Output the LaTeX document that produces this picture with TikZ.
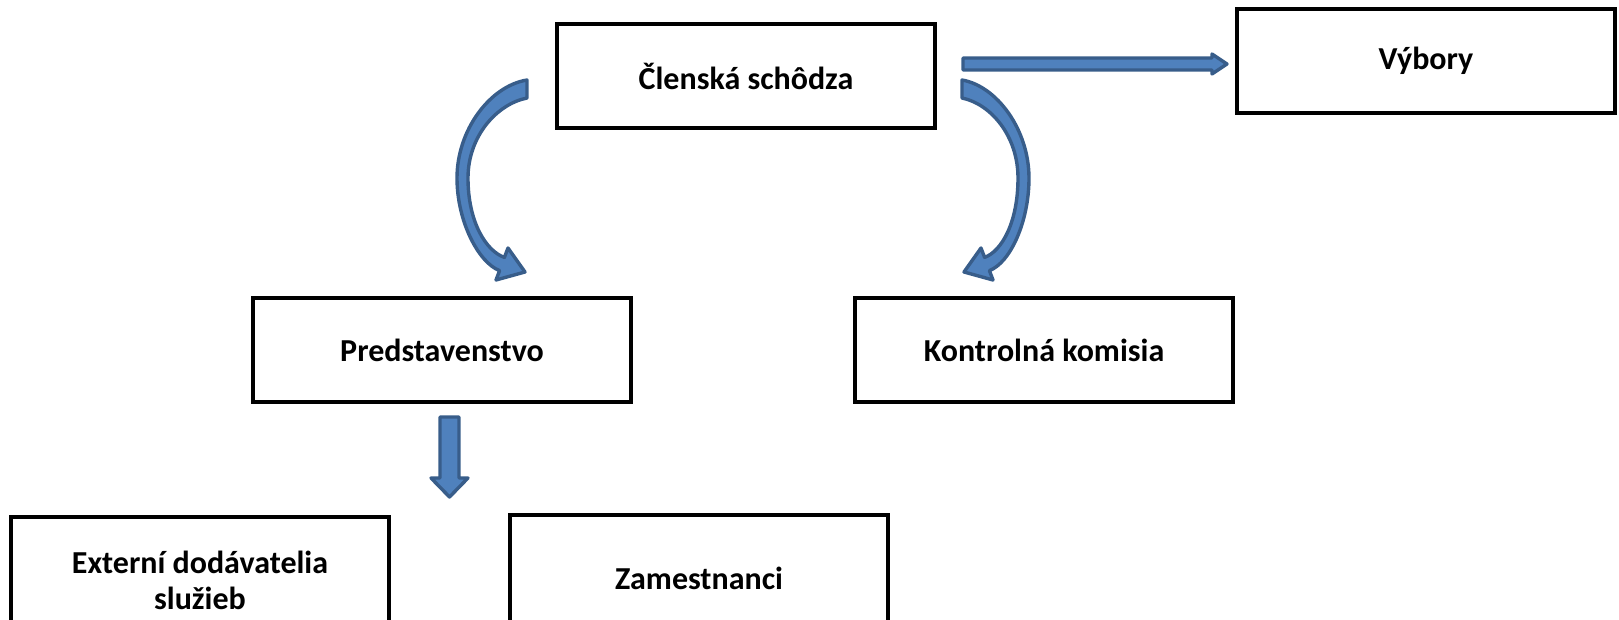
\documentclass[tikz,border=0pt]{standalone}
\usepackage{fontspec}
\setmainfont{Carlito}
\usetikzlibrary{positioning}
\definecolor{blockfill}{HTML}{4F81BD}
\definecolor{blockline}{HTML}{385D8A}
\tikzset{
    orgbox/.style={draw, line width=2pt, minimum width=189pt, minimum height=52pt,
        align=center, font=\fontsize{16}{18}\selectfont\bfseries},
    blockarrow/.style={fill=blockfill, draw=blockline, line width=1.7pt, line join=round}
}

\begin{document}
\begin{tikzpicture}[x=0.5pt, y=-0.5pt]
    \useasboundingbox (0,0) rectangle (1619,620);
    \clip (0,0) rectangle (1619,620);

    \node[orgbox] (CLEN) at (746,76) {Členská schôdza};
    \node[orgbox] (VYB) at (1426,61) {Výbory};
    \node[orgbox] (PRED) at (442,350) {Predstavenstvo};
    \node[orgbox] (KONT) at (1044,350) {Kontrolná komisia};
    \node[orgbox, minimum height=63pt] (EXT) at (200,580) {Externí dodávatelia\\služieb};
    \node[orgbox, minimum height=63pt] (ZAM) at (699,578) {Zamestnanci};

    % curved arrow to the left box
    \draw[blockarrow] (527,80) .. controls (490,86) and (457,130) .. (457,178)
        .. controls (457,222) and (479,263) .. (499.6,270.6)
        -- (496,280) -- (525,272) -- (508,248) -- (504.4,257.4)
        .. controls (486,251) and (468,222) .. (468,178)
        .. controls (468,136) and (497,104) .. (527,98) -- cycle;

    % curved arrow to the right box
    \draw[blockarrow] (962,80) .. controls (997,86) and (1029,130) .. (1029,178)
        .. controls (1029,222) and (1010,263) .. (989.4,270.6)
        -- (993,280) -- (964,272) -- (981,248) -- (984.6,257.4)
        .. controls (1002,251) and (1018,222) .. (1018,178)
        .. controls (1018,136) and (991,104) .. (962,98) -- cycle;

    % straight arrows
    \draw[blockarrow] (963,58) -- (1212,58) -- (1212,54) -- (1227,64)
        -- (1212,74) -- (1212,70) -- (963,70) -- cycle;
    \draw[blockarrow] (440,417) -- (459,417) -- (459,478) -- (468,478)
        -- (449.5,497) -- (431,478) -- (440,478) -- cycle;

    % \draw[help lines] (0,0) grid (1619,620);
\end{tikzpicture}
\end{document}
